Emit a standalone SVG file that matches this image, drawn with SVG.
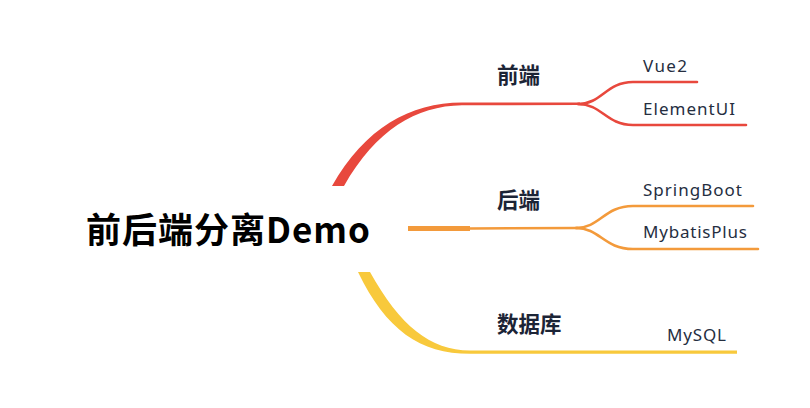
<svg xmlns="http://www.w3.org/2000/svg" width="810" height="408" viewBox="0 0 810 408">
<style>
.root{font-family:"Noto Sans CJK SC","Noto Sans",sans-serif;font-weight:700;font-size:35px;fill:#000}
.main{font-family:"Noto Sans CJK SC","Noto Sans",sans-serif;font-weight:700;font-size:21.5px;fill:#1c2436}
.sub{font-family:"Noto Sans","Open Sans",sans-serif;font-size:17px;fill:#252e3f}
.red{stroke:#e8483d}.org{stroke:#f39a3b}.yel{stroke:#f8c93c}
.ln{fill:none;stroke-width:2.6;stroke-linecap:round}
</style>
<rect width="810" height="408" fill="#fff"/>
<g id="connectors">
<path d="M332 186 C365 128 410 102.5 462 102.5 L580 102.5 L580 105 L462 105.3 C416 106 376 130 344 186 Z" fill="#e8483d"/>
<path class="ln red" d="M578 104 C602 104 606 82 633 82 L697 82"/>
<path class="ln red" d="M578 104 C602 104 606 125 633 125 L746 125"/>
<rect x="408" y="226" width="62" height="5" fill="#f39a3b"/>
<path class="ln org" d="M470 228.5 L578 228"/>
<path class="ln org" d="M576 228 C600 228 604 206 633 206 L753 206"/>
<path class="ln org" d="M576 228 C600 228 604 249 633 249 L758 249"/>
<path d="M358 272 C386 330 420 353.8 470 353.8 L737 353.8 L737 350.6 L470 350.6 C430 350 400 326 370 272 Z" fill="#f8c93c"/>
</g>
<g id="root"><text class="root" x="86" y="243" textLength="284">前后端分离Demo</text></g>
<g id="n-frontend"><text class="main" x="497" y="83">前端</text></g>
<g id="n-vue2"><text class="sub" x="643" y="72" textLength="44">Vue2</text></g>
<g id="n-elementui"><text class="sub" x="643" y="115" textLength="92">ElementUI</text></g>
<g id="n-backend"><text class="main" x="497" y="208">后端</text></g>
<g id="n-springboot"><text class="sub" x="643" y="196" textLength="99">SpringBoot</text></g>
<g id="n-mybatisplus"><text class="sub" x="643" y="238" textLength="104">MybatisPlus</text></g>
<g id="n-db"><text class="main" x="497" y="332">数据库</text></g>
<g id="n-mysql"><text class="sub" x="667" y="341" textLength="59">MySQL</text></g>
</svg>
